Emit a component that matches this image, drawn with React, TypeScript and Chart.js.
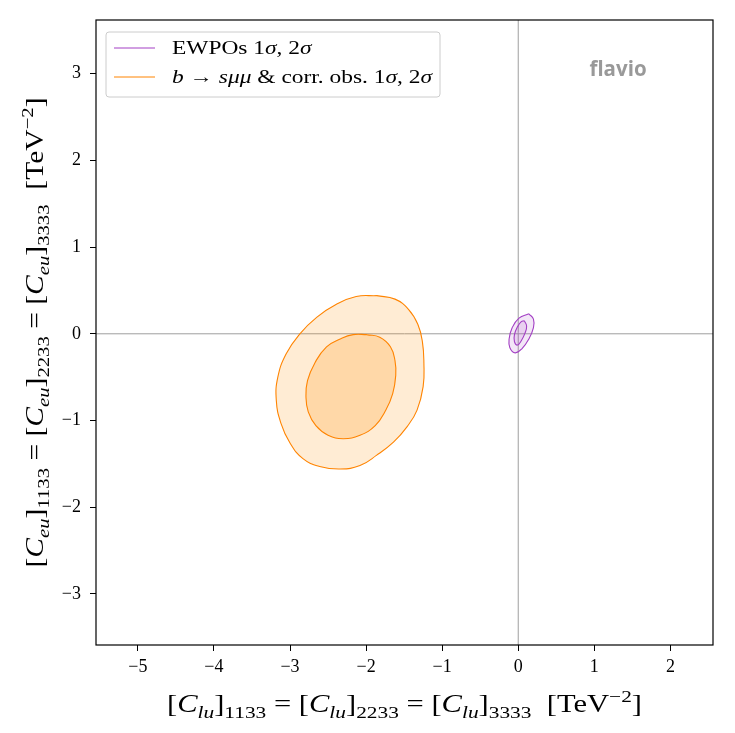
import { useEffect, useRef } from "react";
import { Chart, registerables } from "chart.js";

Chart.register(...registerables);

// Axis limits and tick values
const xRange = [-5.55, 2.56];
const yRange = [-3.59, 3.62];
const xTickValues = [-5, -4, -3, -2, -1, 0, 1, 2];
const yTickValues = [-3, -2, -1, 0, 1, 2, 3];

// b -> s mu mu & correlated observables: 2 sigma contour
const bsmmOuterX = [-1.86, -1.62, -1.44, -1.32, -1.26, -1.24, -1.25, -1.33, -1.46, -1.64, -1.86, -2.08, -2.34, -2.61, -2.83, -3.0, -3.12, -3.18, -3.16, -3.05, -2.87, -2.65, -2.39, -2.13];
const bsmmOuterY = [0.44, 0.4, 0.28, 0.11, -0.09, -0.34, -0.61, -0.88, -1.07, -1.25, -1.4, -1.52, -1.56, -1.53, -1.44, -1.26, -1.03, -0.77, -0.5, -0.23, 0.0, 0.19, 0.34, 0.43];
// b -> s mu mu & correlated observables: 1 sigma contour
const bsmmInnerX = [-1.99, -1.82, -1.68, -1.62, -1.61, -1.65, -1.74, -1.88, -2.08, -2.3, -2.5, -2.66, -2.76, -2.79, -2.77, -2.67, -2.52, -2.34, -2.17];
const bsmmInnerY = [-0.01, -0.04, -0.15, -0.31, -0.48, -0.69, -0.88, -1.06, -1.17, -1.21, -1.17, -1.06, -0.9, -0.73, -0.54, -0.33, -0.15, -0.06, -0.01];

// EWPOs: 2 sigma contour
const ewpoOuterX = [0.14, 0.2, 0.2, 0.14, 0.05, -0.04, -0.11, -0.12, -0.08, 0.01];
const ewpoOuterY = [0.23, 0.17, 0.07, -0.06, -0.17, -0.22, -0.16, -0.06, 0.07, 0.18];
// EWPOs: 1 sigma contour
const ewpoInnerX = [0.08, 0.11, 0.09, 0.04, -0.01, -0.05, -0.05, -0.01, 0.04];
const ewpoInnerY = [0.15, 0.09, 0.01, -0.08, -0.13, -0.09, -0.01, 0.08, 0.14];

const legendLabels = ["EWPOs", "b → sμμ & corr. obs."];

const ORANGE = "#ff8400";
const PURPLE = "#a33fc4";

const closedLoop = (xs: number[], ys: number[]) => {
  const pts = xs.map((x, i) => ({ x, y: ys[i] }));
  pts.push({ ...pts[0] });
  return pts;
};

const minus = (v: number) => (v < 0 ? "\u2212" + Math.abs(v) : String(v));

type Seg = { t: string; it?: boolean; sub?: boolean; sup?: boolean };

const SERIF = '"Liberation Serif", "DejaVu Serif", serif';

function segFont(s: Seg, size: number) {
  const sz = s.sub || s.sup ? size * 0.7 : size;
  return `${s.it ? "italic " : ""}${sz}px ${SERIF}`;
}

function richWidth(ctx: CanvasRenderingContext2D, segs: Seg[], size: number) {
  let w = 0;
  for (const s of segs) {
    ctx.font = segFont(s, size);
    w += ctx.measureText(s.t).width;
  }
  return w;
}

// Draws a run of text pieces from x (left) on baseline y, stretched horizontally by sx
function drawRich(ctx: CanvasRenderingContext2D, segs: Seg[], x: number, y: number, size: number, sx = 1) {
  ctx.save();
  ctx.translate(x, y);
  ctx.scale(sx, 1);
  let cx = 0;
  ctx.textBaseline = "alphabetic";
  ctx.textAlign = "left";
  for (const s of segs) {
    ctx.font = segFont(s, size);
    const dy = s.sub ? size * 0.22 : s.sup ? -size * 0.42 : 0;
    ctx.fillText(s.t, cx, dy);
    cx += ctx.measureText(s.t).width;
  }
  ctx.restore();
}

function coeffTitle(flavour: string): Seg[] {
  const out: Seg[] = [];
  ["1133", "2233", "3333"].forEach((idx, i) => {
    if (i > 0) out.push({ t: " = " });
    out.push({ t: "[" }, { t: "C", it: true }, { t: flavour, it: true, sub: true }, { t: "]" }, { t: idx, sub: true });
  });
  out.push({ t: "  [TeV" }, { t: "\u22122", sup: true }, { t: "]" });
  return out;
}

const sigmaPart: Seg[] = [{ t: " 1" }, { t: "σ", it: true }, { t: ", 2" }, { t: "σ", it: true }];
const legendRows: Seg[][] = [
  [{ t: legendLabels[0] }, ...sigmaPart],
  [
    { t: "b", it: true },
    { t: " → " },
    { t: "sμμ", it: true },
    { t: " & corr. obs." },
    ...sigmaPart,
  ],
];

const decorations = {
  id: "decorations",
  beforeDatasetsDraw(chart: any) {
    const { ctx, chartArea: a, scales } = chart;
    const x0 = scales.x.getPixelForValue(0);
    const y0 = scales.y.getPixelForValue(0);
    ctx.save();
    ctx.strokeStyle = "#9e9e9e";
    ctx.lineWidth = 1;
    ctx.beginPath();
    ctx.moveTo(x0, a.top);
    ctx.lineTo(x0, a.bottom);
    ctx.moveTo(a.left, y0);
    ctx.lineTo(a.right, y0);
    ctx.stroke();
    ctx.restore();
  },
  afterDraw(chart: any) {
    const { ctx, chartArea: a } = chart;
    ctx.save();
    // frame
    ctx.strokeStyle = "#000";
    ctx.lineWidth = 1.2;
    ctx.strokeRect(a.left, a.top, a.right - a.left, a.bottom - a.top);

    // flavio mark
    ctx.fillStyle = "#999999";
    ctx.font = 'bold 20.5px "Open Sans", "DejaVu Sans", sans-serif';
    ctx.textAlign = "center";
    ctx.textBaseline = "middle";
    ctx.fillText("flavio", a.left + 522, a.top + 50);

    // legend
    const lx = a.left + 10, ly = a.top + 12, lw = 334, lh = 65;
    ctx.fillStyle = "rgba(255,255,255,0.85)";
    ctx.strokeStyle = "#cccccc";
    ctx.lineWidth = 1;
    ctx.beginPath();
    ctx.roundRect(lx, ly, lw, lh, 3);
    ctx.fill();
    ctx.stroke();
    const rowY = [ly + 16, ly + 45];
    const lSize = 19;
    const lStretch = 260 / richWidth(ctx, legendRows[1], lSize);
    [PURPLE, ORANGE].forEach((c, i) => {
      ctx.strokeStyle = c;
      ctx.lineWidth = 1;
      ctx.beginPath();
      ctx.moveTo(lx + 8, rowY[i]);
      ctx.lineTo(lx + 49, rowY[i]);
      ctx.stroke();
      ctx.fillStyle = "#000";
      drawRich(ctx, legendRows[i], lx + 66, rowY[i] + 6, lSize, lStretch);
    });

    // axis titles
    ctx.fillStyle = "#000";
    const tSize = 25;
    const xt = coeffTitle("lu");
    const xw = richWidth(ctx, xt, tSize);
    const xs = 475 / xw;
    drawRich(ctx, xt, (a.left + a.right) / 2 - 237.5, a.bottom + 67, tSize, xs);

    const yt = coeffTitle("eu");
    const yw = richWidth(ctx, yt, tSize);
    const ys = 470 / yw;
    ctx.translate(a.left - 53, (a.top + a.bottom) / 2);
    ctx.rotate(-Math.PI / 2);
    drawRich(ctx, yt, -235, 0, tSize, ys);
    ctx.restore();
  },
};

export default function App() {
  const ref = useRef<HTMLCanvasElement>(null);

  useEffect(() => {
    if (!ref.current) return;
    const tickFont = { family: SERIF, size: 18 };
    const chart = new Chart(ref.current, {
      type: "line",
      data: {
        datasets: [
          {
            label: "EWPOs 1σ",
            data: closedLoop(ewpoInnerX, ewpoInnerY),
            borderColor: PURPLE,
            backgroundColor: "rgba(163,63,196,0.13)",
            fill: "shape",
            order: 1,
          },
          {
            label: "EWPOs 2σ",
            data: closedLoop(ewpoOuterX, ewpoOuterY),
            borderColor: PURPLE,
            backgroundColor: "rgba(163,63,196,0.13)",
            fill: "shape",
            order: 2,
          },
          {
            label: "b → sμμ 1σ",
            data: closedLoop(bsmmInnerX, bsmmInnerY),
            borderColor: ORANGE,
            backgroundColor: "rgba(255,140,0,0.21)",
            fill: "shape",
            order: 3,
          },
          {
            label: "b → sμμ 2σ",
            data: closedLoop(bsmmOuterX, bsmmOuterY),
            borderColor: ORANGE,
            backgroundColor: "rgba(255,140,0,0.17)",
            fill: "shape",
            order: 4,
          },
        ],
      },
      options: {
        animation: false,
        responsive: true,
        maintainAspectRatio: false,
        datasets: {
          line: {
            tension: 0.45,
            pointRadius: 0,
            pointHoverRadius: 0,
            borderWidth: 1.1,
          },
        },
        layout: { padding: { left: 0, top: 12, right: 14, bottom: 0 } },
        plugins: {
          legend: { display: false },
          tooltip: { enabled: false },
        },
        scales: {
          x: {
            type: "linear",
            min: xRange[0],
            max: xRange[1],
            afterBuildTicks: (s: any) => {
              s.ticks = xTickValues.map((value) => ({ value }));
            },
            afterFit: (s: any) => {
              s.height = 80;
              s.paddingLeft = 0;
              s.paddingRight = 0;
            },
            border: { display: false },
            grid: { drawOnChartArea: false, tickLength: 6, tickColor: "#000" },
            ticks: {
              color: "#000",
              font: tickFont,
              padding: 5,
              maxRotation: 0,
              callback: (v: any) => minus(Number(v)),
            },
          },
          y: {
            type: "linear",
            min: yRange[0],
            max: yRange[1],
            afterBuildTicks: (s: any) => {
              s.ticks = yTickValues.map((value) => ({ value }));
            },
            afterFit: (s: any) => {
              s.width = 88;
              s.paddingTop = 0;
              s.paddingBottom = 0;
            },
            border: { display: false },
            grid: { drawOnChartArea: false, tickLength: 6, tickColor: "#000" },
            ticks: {
              color: "#000",
              font: tickFont,
              padding: 9,
              callback: (v: any) => minus(Number(v)),
            },
          },
        },
      },
      plugins: [decorations],
    });
    return () => chart.destroy();
  }, []);

  return (
    <div style={{ position: "relative", width: 719, height: 717 }}>
      <canvas ref={ref} />
    </div>
  );
}
